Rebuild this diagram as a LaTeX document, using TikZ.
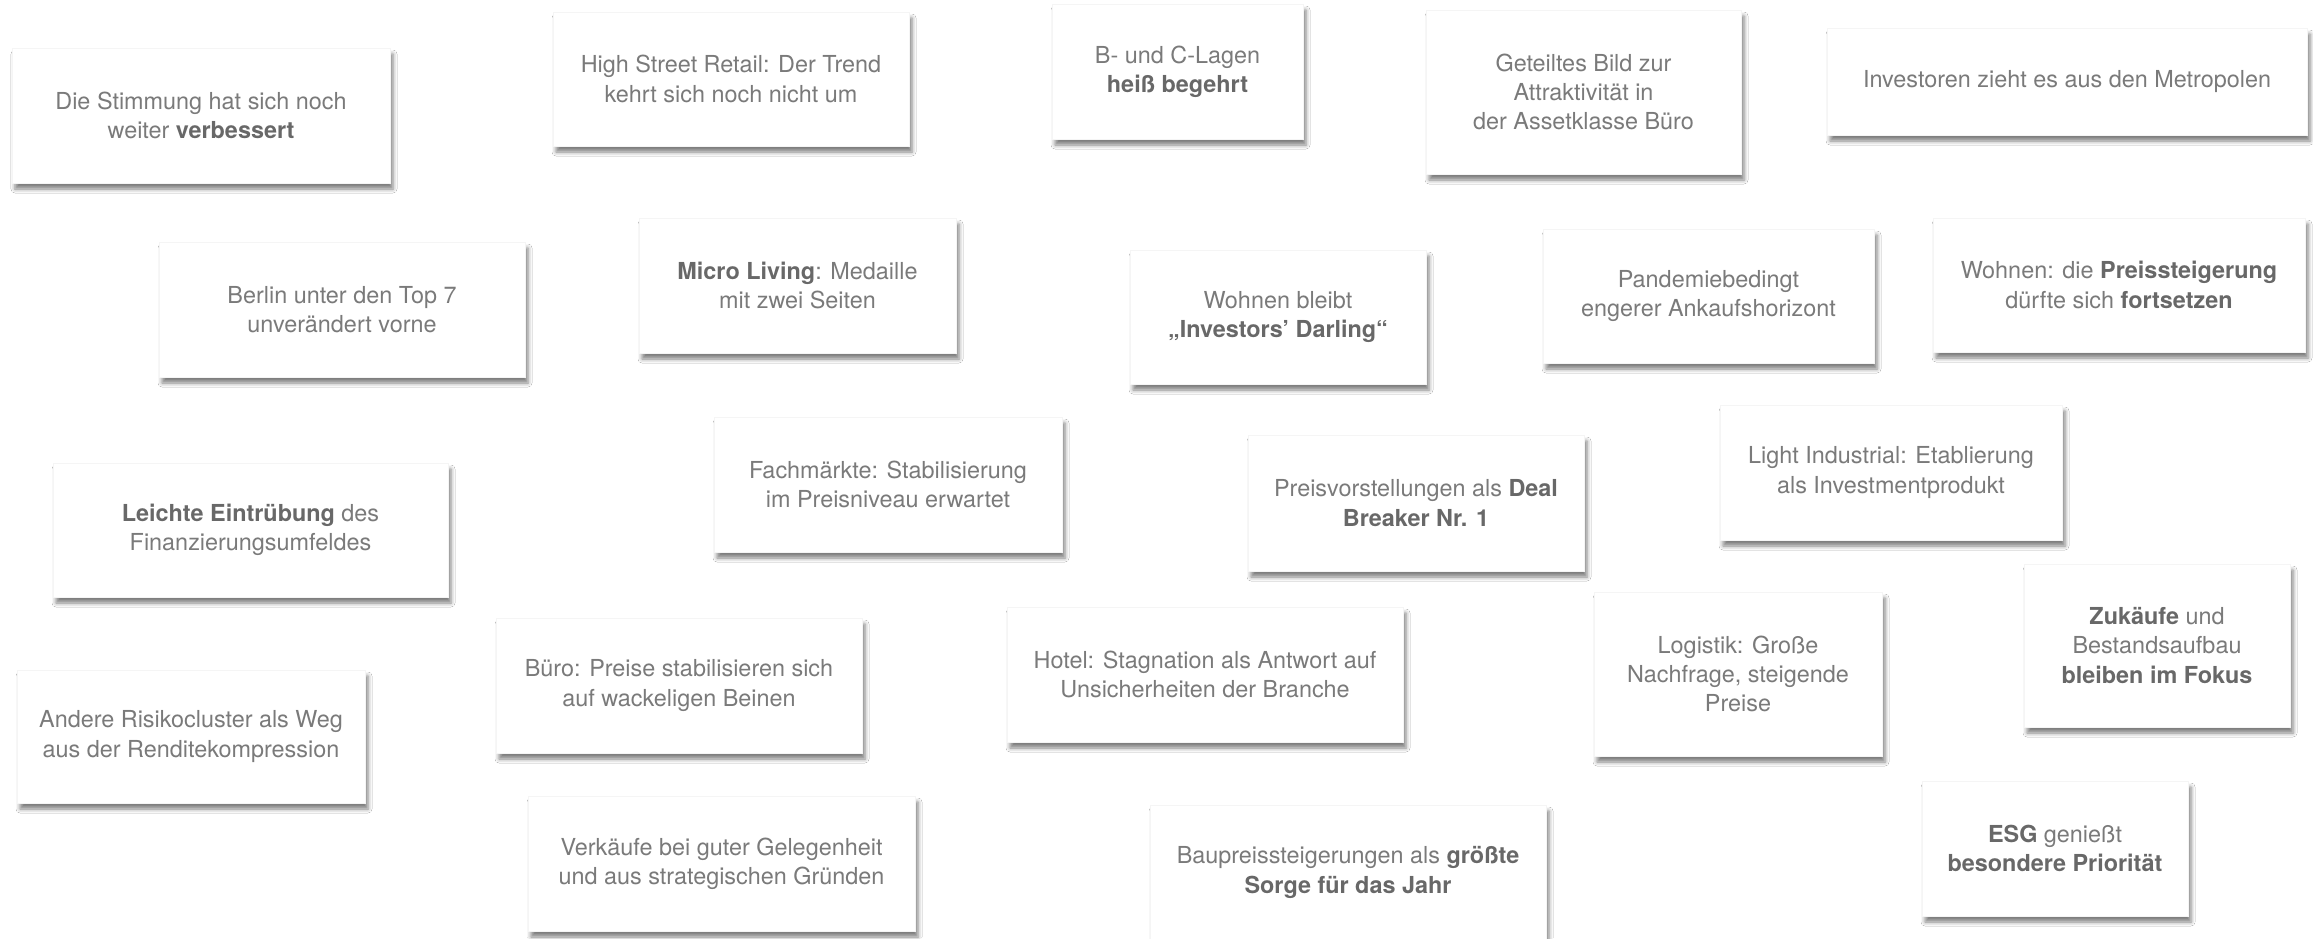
\documentclass[tikz,border=0pt]{standalone}
\usepackage{fontspec}
\setmainfont{TeX Gyre Heros}
\usetikzlibrary{shadows.blur}
\definecolor{txtgray}{RGB}{122,122,122}
\definecolor{boldgray}{RGB}{104,104,104}
\newcommand\bt[1]{{\bfseries\color{boldgray}#1}}
\newcommand\card[6]{\node[card, minimum width={(#4-#2)*0.5pt}, minimum height={(#5-#3)*0.5pt}] (#1) at ({(#2+#4)/2},{(#3+#5)/2}) {#6};}
\tikzset{
  card/.style={rectangle, fill=white, draw=black!4, line width=0.3pt, inner sep=0pt,
    align=center, text=txtgray, font=\fontsize{11.7}{14.6}\selectfont,
    blur shadow={shadow xshift=1.5pt, shadow yshift=-3pt, shadow blur radius=2pt, shadow opacity=50}}
}
\begin{document}
\begin{tikzpicture}[x=0.5pt,y=-0.5pt]
\useasboundingbox[fill=white] (0,0) rectangle (2313,938);
\card{stimmung}{12}{48}{390}{183}{Die Stimmung hat sich noch\\weiter \bt{verbessert}}
\card{highstreet}{553}{12}{909}{146}{High Street Retail: Der Trend\\kehrt sich noch nicht um}
\card{lagen}{1052}{4}{1303}{139}{B- und C-Lagen\\\bt{heiß begehrt}}
\card{buero}{1426}{10}{1741}{174}{Geteiltes Bild zur\\Attraktivität in\\der Assetklasse Büro}
\card{metropolen}{1827}{28}{2307}{135}{Investoren zieht es aus den Metropolen}
\card{berlin}{159}{242}{525}{377}{Berlin unter den Top 7\\unverändert vorne}
\card{micro}{639}{218}{956}{353}{\bt{Micro Living}: Medaille\\mit zwei Seiten}
\card{wohnen}{1130}{250}{1426}{384}{Wohnen bleibt\\\bt{„Investors’ Darling“}}
\card{pandemie}{1543}{229}{1874}{363}{Pandemiebedingt\\engerer Ankaufshorizont}
\card{preissteig}{1933}{218}{2305}{352}{Wohnen: die \bt{Preissteigerung}\\dürfte sich \bt{fortsetzen}}
\card{eintruebung}{53}{463}{448}{597}{\bt{Leichte Eintrübung} des\\Finanzierungsumfeldes}
\card{fachmaerkte}{714}{417}{1062}{552}{Fachmärkte: Stabilisierung\\im Preisniveau erwartet}
\card{preisvorst}{1248}{435}{1584}{571}{Preisvorstellungen als \bt{Deal}\\\bt{Breaker Nr. 1}}
\card{light}{1720}{405}{2062}{540}{Light Industrial: Etablierung\\als Investmentprodukt}
\card{zukaeufe}{2024}{564}{2290}{727}{\bt{Zukäufe} und\\Bestandsaufbau\\\bt{bleiben im Fokus}}
\card{bueropreise}{496}{618}{862}{753}{Büro: Preise stabilisieren sich\\auf wackeligen Beinen}
\card{hotel}{1007}{607}{1403}{742}{Hotel: Stagnation als Antwort auf\\Unsicherheiten der Branche}
\card{logistik}{1594}{592}{1882}{756}{Logistik: Große\\Nachfrage, steigende\\Preise}
\card{risiko}{17}{670}{365}{803}{Andere Risikocluster als Weg\\aus der Renditekompression}
\card{verkaeufe}{528}{796}{915}{931}{Verkäufe bei guter Gelegenheit\\und aus strategischen Gründen}
\card{baupreis}{1150}{805}{1546}{940}{Baupreissteigerungen als \bt{größte}\\\bt{Sorge für das Jahr}}
\card{esg}{1922}{781}{2188}{916}{\bt{ESG} genießt\\\bt{besondere Priorität}}
\end{tikzpicture}
\end{document}
